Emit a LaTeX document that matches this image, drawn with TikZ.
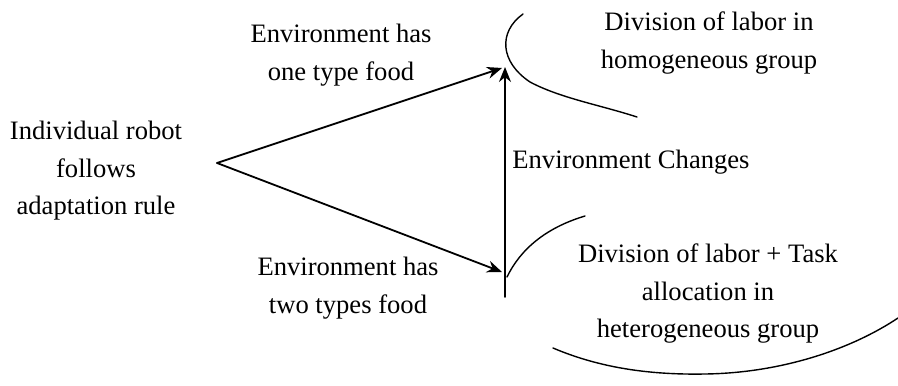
\documentclass[tikz,border=0pt]{standalone}
\usepackage{fontspec}
\setmainfont{Liberation Serif}
\usetikzlibrary{arrows.meta}
\begin{document}
\begin{tikzpicture}[x=0.5pt,y=-0.5pt,
  lbl/.style={inner sep=0pt,align=center,font=\fontsize{13.3}{18.75}\selectfont},
  arr/.style={line width=0.9pt,line cap=round,-{Stealth[length=7.5pt,width=6pt]}},
  arc/.style={line width=0.7pt,line cap=round}]
\useasboundingbox (0,0) rectangle (898,385);

% text blocks
\node[lbl] (robot) at (96,171) {Individual robot\\follows\\adaptation rule};
\node[lbl] (one) at (341,55) {Environment has\\one type food};
\node[lbl] (two) at (348,288) {Environment has\\two types food};
\node[lbl,anchor=base west] (chg) at (512,168) {Environment Changes};
\node[lbl] (homo) at (709,43) {Division of labor in\\homogeneous group};
\node[lbl] (hetero) at (708,294) {Division of labor + Task\\allocation in\\heterogeneous group};

% branching arrows
\coordinate (apex) at (217,163);
\coordinate (ttip) at (502,68);
\coordinate (btip) at (502,272);
\coordinate (vtop) at (505,67);
\coordinate (vbot) at (505,297);
\draw[arr] (apex) -- (ttip);
\draw[arr] (apex) -- (btip);
\draw[arr] (vbot) -- (vtop);

% outline of the homogeneous group
\draw[arc] (523,14) .. controls (498,32) and (500,62) .. (530,82)
                    .. controls (560,98) and (600,105) .. (637,117);

% outline of the heterogeneous group
\draw[arc] (585,216) .. controls (545,228) and (520,250) .. (507,277);
\draw[arc] (553,348) .. controls (600,368) and (650,375) .. (705,374)
                    .. controls (780,373) and (850,350) .. (898,318);
\end{tikzpicture}
\end{document}
